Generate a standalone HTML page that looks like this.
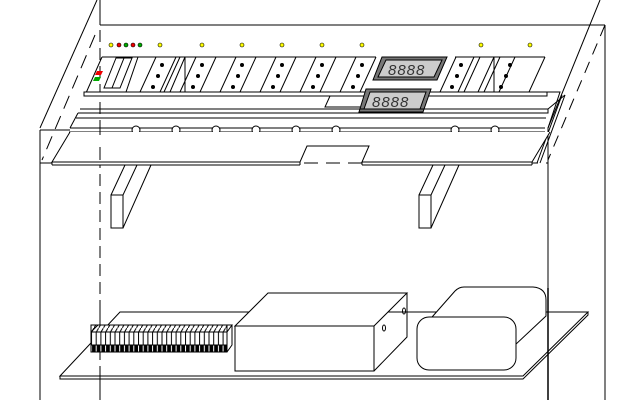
<!DOCTYPE html>
<html><head><meta charset="utf-8"><style>html,body{margin:0;padding:0;background:#fff}svg{display:block}</style></head>
<body>
<svg width="621" height="400" viewBox="0 0 621 400" xmlns="http://www.w3.org/2000/svg" fill="none" stroke="#000" stroke-width="1">
<defs>
<pattern id="cells" x="91" y="0" width="4.7" height="400" patternUnits="userSpaceOnUse">
<rect x="0" y="0" width="4.7" height="400" fill="#fff" stroke="none"/>
<line x1="0.5" y1="0" x2="0.5" y2="400" stroke="#000"/>
</pattern>
<pattern id="blk" x="91" y="0" width="4.7" height="400" patternUnits="userSpaceOnUse">
<rect x="0" y="0" width="4.7" height="400" fill="#000" stroke="none"/>
<line x1="0.5" y1="0" x2="0.5" y2="400" stroke="#fff"/>
</pattern>
<pattern id="hatch" x="0" y="0" width="4.7" height="8" patternUnits="userSpaceOnUse">
<rect width="4.7" height="8" fill="#fff" stroke="none"/>
<line x1="0" y1="8" x2="4.7" y2="0" stroke="#000"/>
</pattern>
</defs>
<!-- cabinet -->
<line x1="97" y1="0" x2="40" y2="128"/>
<line x1="100" y1="0" x2="100" y2="25"/>
<line x1="100" y1="25" x2="605" y2="25"/>
<line x1="600" y1="0" x2="548" y2="128"/>
<line x1="605" y1="25" x2="605" y2="400"/>
<line x1="548" y1="128" x2="548" y2="400"/>
<line x1="40" y1="130" x2="40" y2="400"/>
<line x1="40" y1="130" x2="70" y2="130"/>
<line x1="100" y1="30" x2="100" y2="400" stroke-dasharray="12,6"/>
<line x1="605" y1="25" x2="548" y2="160" stroke-dasharray="12,8"/>
<line x1="40" y1="163" x2="548" y2="163" stroke-dasharray="14,8"/>
<line x1="95" y1="35" x2="42" y2="160" stroke-dasharray="14,8"/>
<!-- LEDs -->
<g stroke="#000" stroke-width="0.6">
<circle cx="111" cy="45" r="2" fill="#ff0"/><circle cx="119" cy="45" r="2" fill="#e00"/><circle cx="126" cy="45" r="2" fill="#0a0"/><circle cx="133" cy="45" r="2" fill="#e00"/><circle cx="140" cy="45" r="2" fill="#0a0"/>
<circle cx="160" cy="45" r="2" fill="#ff0"/><circle cx="202" cy="45" r="2" fill="#ff0"/><circle cx="242" cy="45" r="2" fill="#ff0"/><circle cx="282" cy="45" r="2" fill="#ff0"/><circle cx="322" cy="45" r="2" fill="#ff0"/><circle cx="362" cy="45" r="2" fill="#ff0"/><circle cx="481" cy="45" r="2" fill="#ff0"/><circle cx="530" cy="45" r="2" fill="#ff0"/>
</g>
<!-- panel top slots -->
<line x1="102" y1="57" x2="86" y2="93"/>
<g>
<path d="M116,58 L104,88 L112,88 L124,58 Z M124,58 L112,88 L120,88 L132,58Z"/>
<path d="M138,57 L126,92 M156,57 L140,92 M176,57 L160,92 M180,57 L164,92 M185,57 L170,92"/>
<line x1="185" y1="57" x2="185" y2="92"/>
<path d="M216,57 L200,92 M256,57 L240,92 M296,57 L280,92 M336,57 L320,92 M376,57 L360,92"/>
<path d="M196,57 L180,92 M236,57 L220,92 M276,57 L260,92 M316,57 L300,92 M356,57 L340,92"/>
<path d="M102,57 L376,57"/>
<path d="M455,57 L545,57 M456,57 L440,92 M474,57 L458,92 M480,57 L464,92 M494,57 L478,92 M494,57 L494,92 M500,57 L484,92 M515,57 L499,92 M545,57 L529,92"/>
</g>
<g fill="#000" stroke="none">
<polygon points="97,71 103,71 101,75 95,75" fill="#e00"/>
<polygon points="95,77 101,77 99,81 93,81" fill="#0a0"/>
<circle cx="162" cy="65" r="2"/><circle cx="158" cy="76" r="2"/><circle cx="153" cy="87" r="2"/>
<circle cx="202" cy="65" r="2"/><circle cx="198" cy="76" r="2"/><circle cx="193" cy="87" r="2"/>
<circle cx="242" cy="65" r="2"/><circle cx="238" cy="76" r="2"/><circle cx="233" cy="87" r="2"/>
<circle cx="282" cy="65" r="2"/><circle cx="278" cy="76" r="2"/><circle cx="273" cy="87" r="2"/>
<circle cx="322" cy="65" r="2"/><circle cx="318" cy="76" r="2"/><circle cx="313" cy="87" r="2"/>
<circle cx="362" cy="65" r="2"/><circle cx="358" cy="76" r="2"/><circle cx="353" cy="87" r="2"/>
<circle cx="461" cy="65" r="2"/><circle cx="457" cy="76" r="2"/><circle cx="452" cy="87" r="2"/>
<circle cx="510" cy="65" r="2"/><circle cx="506" cy="76" r="2"/><circle cx="501" cy="87" r="2"/>
</g>
<!-- strip -->
<rect x="84" y="92" width="463" height="4" fill="#fff"/>
<path d="M547,92 L560,92 L548,128"/>
<path d="M330,96 L325,107 L362,107"/>
<!-- displays -->
<polygon points="382,57 447,57 437,80 373,80" fill="#777"/>
<polygon points="386,60 442,60 434,77 378,77" fill="#ccc"/>
<text x="388" y="75" font-family="Liberation Sans,sans-serif" font-style="italic" font-size="15" fill="#333" stroke="none" letter-spacing="1">8888</text>
<polygon points="366,89 431,89 423,112 359,112" fill="#777"/>
<polygon points="370,92 426,92 420,109 364,109" fill="#ccc"/>
<text x="372" y="107" font-family="Liberation Sans,sans-serif" font-style="italic" font-size="15" fill="#333" stroke="none" letter-spacing="1">8888</text>
<!-- rails -->
<path d="M80,109 L548,109 M78,113 L548,113 L548,109 M76,118 L546,118 M70,128 L545,128 M69,132 L545,132"/>
<line x1="78" y1="113" x2="70" y2="128"/>
<line x1="548" y1="109" x2="565" y2="95"/>
<line x1="565" y1="95" x2="540" y2="163"/>
<line x1="562" y1="95" x2="537" y2="163"/>
<g fill="#fff">
<circle cx="136" cy="130" r="4"/><circle cx="176" cy="130" r="4"/><circle cx="216" cy="130" r="4"/><circle cx="256" cy="130" r="4"/><circle cx="296" cy="130" r="4"/><circle cx="336" cy="130" r="4"/><circle cx="455" cy="130" r="4"/><circle cx="495" cy="130" r="4"/>
</g>
<!-- lower plate -->
<path d="M70,132 L52,162 L52,165 L300,165 L300,162 L307,146 L369,146 L362,162 L362,165 L532,165 L532,162 L550,132 Z" fill="#fff" stroke="none"/>
<path d="M70,132 L52,162 L300,162 L307,146 L369,146 L362,162 L532,162 L550,132"/>
<path d="M52,165 L300,165 M362,165 L532,165 M52,162 L52,165 M532,162 L532,165 M300,162 L300,165 M362,162 L362,165"/>
<line x1="100" y1="132" x2="100" y2="135"/>
<line x1="100" y1="147" x2="100" y2="160"/>
<!-- brackets -->
<g fill="#fff">
<path d="M111,195 L123,195 L123,228 L111,228 Z"/>
<path d="M111,195 L125,165 M123,195 L137,165 M123,228 L151,165"/>
<path d="M419,195 L431,195 L431,228 L419,228 Z"/>
<path d="M419,195 L433,165 M431,195 L445,165 M431,228 L459,165"/>
</g>
<!-- bottom board -->
<path d="M60,376 L120,312 L588,312 L523,376 Z" fill="#fff"/>
<path d="M60,376 L60,379 L523,379 L588,315 L588,312"/>
<line x1="100" y1="312" x2="100" y2="400" stroke-dasharray="12,6"/>
<!-- connector -->
<rect x="91" y="325" width="136" height="7" fill="url(#hatch)"/>
<path d="M91,332 L98,325 L232,325 L227,332 M232,325 L232,345 L227,352"/>
<rect x="91" y="332" width="136" height="13" fill="url(#cells)"/>
<rect x="91" y="345" width="136" height="7" fill="url(#blk)"/>
<rect x="91" y="332" width="136" height="20"/>
<!-- box -->
<path d="M235,326 L268,293 L407,293 L374,326 Z" fill="#fff"/>
<path d="M407,293 L407,337 L374,371"/>
<rect x="235" y="326" width="139" height="45" fill="#fff"/>
<ellipse cx="384" cy="328" rx="1.5" ry="3"/><ellipse cx="404" cy="311" rx="1.5" ry="3"/>
<!-- transformer -->
<path d="M425,325 L455,291 Q459,287 464,287 L533,287 Q546,288 546,300 L546,316 L514,346 Z" fill="#fff"/>
<rect x="417" y="317" width="99" height="53" rx="12" fill="#fff"/>
<line x1="548" y1="288" x2="548" y2="400" stroke-width="1.5"/>
</svg>
</body></html>
